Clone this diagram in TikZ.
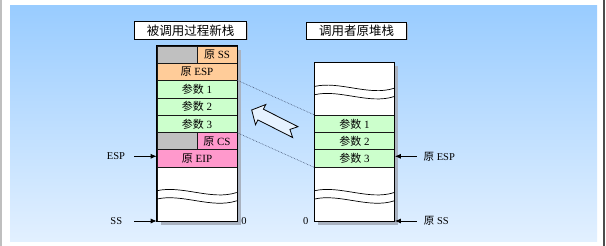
\documentclass[tikz,border=0pt]{standalone}
\usepackage{fontspec}
\setmainfont{Liberation Serif}
\newfontfamily\cjk{Noto Sans CJK SC}
\usetikzlibrary{arrows.meta}

\definecolor{panelTop}{HTML}{99CCFF}
\definecolor{panelBot}{HTML}{E2F0FF}
\definecolor{cellGray}{HTML}{C0C0C0}
\definecolor{cellOrange}{HTML}{FFCC99}
\definecolor{cellGreen}{HTML}{CCFFCC}
\definecolor{cellPink}{HTML}{FF99CC}
\definecolor{shadowC}{HTML}{A9B2C0}
\definecolor{linkC}{HTML}{3A4A6A}
\definecolor{moveFill}{HTML}{E6F2FF}

\tikzset{
  cell/.style={draw=black!90, line width=0.6pt, minimum width=80pt, minimum height=17.3pt,
    inner sep=0pt, anchor=north west, font=\fontsize{11}{13}\selectfont},
  halfcell/.style={cell, minimum width=40pt},
  titlebox/.style={draw=black, line width=0.7pt, fill=white, inner sep=0pt,
    font=\cjk\fontsize{12.5}{14}\selectfont},
  lbl/.style={inner sep=0pt, font=\fontsize{10.5}{12}\selectfont},
  ptr/.style={line width=0.8pt, -{Latex[length=6pt,width=5pt]}},
  link/.style={linkC, line width=0.6pt, densely dotted},
  wavepair/.pic={
    \draw[line width=0.7pt] (0,0) .. controls (25,-6) and (55,10) .. (80,1.7);
    \draw[line width=0.7pt] (0,8.3) .. controls (25,2.3) and (55,18.3) .. (80,10);
  }
}

\begin{document}
\begin{tikzpicture}[x=1pt,y=-1pt]
\useasboundingbox (0,0) rectangle (606,246);
% page frame and panel
\fill[white] (0,0) rectangle (606,246);
\fill[black!25] (0,0) rectangle (2,246);
\fill[black!70] (603,0) rectangle (604.5,246);
\shade[top color=panelTop, bottom color=panelBot] (10,6) rectangle (597,241);

% titles
\fill[shadowC] (135.8,23.2) rectangle (248.2,40.5);
\node[titlebox, minimum width=112.4pt, minimum height=17.3pt] (tL) at (190.5,30.35) {被调用过程新栈};
\fill[shadowC] (308.2,23.8) rectangle (408.2,40.5);
\node[titlebox, minimum width=100pt, minimum height=16.7pt] (tR) at (356.7,30.65) {调用者原堆栈};

% shadows of the two stacks
\fill[shadowC] (160.7,49.7) rectangle (240.7,225);
\fill[shadowC] (318.3,66.3) rectangle (398.3,225);

% new stack of the called procedure
\node[halfcell, fill=cellGray] (Lg1) at (156.7,45.7) {};
\node[halfcell, fill=cellOrange] (Lss) at (196.7,45.7) {{\cjk 原} SS};
\node[cell, fill=cellOrange] (Lesp) at (156.7,63) {{\cjk 原} ESP};
\node[cell, fill=cellGreen] (Lp1) at (156.7,80.3) {{\cjk 参数} 1};
\node[cell, fill=cellGreen] (Lp2) at (156.7,97.6) {{\cjk 参数} 2};
\node[cell, fill=cellGreen] (Lp3) at (156.7,114.9) {{\cjk 参数} 3};
\node[halfcell, fill=cellGray] (Lg2) at (156.7,132.2) {};
\node[halfcell, fill=cellPink] (Lcs) at (196.7,132.2) {{\cjk 原} CS};
\node[cell, fill=cellPink] (Leip) at (156.7,149.5) {{\cjk 原} EIP};
\node[cell, fill=white, minimum height=54.2pt] (Lbody) at (156.7,166.8) {};
\pic at (156.7,190.8) {wavepair};
\draw[line width=0.9pt] (Lg1.north west) rectangle (Lbody.south east);

% original stack of the caller
\node[cell, fill=white, minimum height=52.6pt] (Rtop) at (314.3,62.3) {};
\pic at (314.3,86.5) {wavepair};
\node[cell, fill=cellGreen] (Rp1) at (314.3,114.9) {{\cjk 参数} 1};
\node[cell, fill=cellGreen] (Rp2) at (314.3,132.2) {{\cjk 参数} 2};
\node[cell, fill=cellGreen] (Rp3) at (314.3,149.5) {{\cjk 参数} 3};
\node[cell, fill=white, minimum height=54.2pt] (Rbody) at (314.3,166.8) {};
\pic at (314.3,190.8) {wavepair};
\draw[line width=0.9pt] (Rtop.north west) rectangle (Rbody.south east);

% parameters copied between the stacks
\draw[link] (Lp1.north east) -- (Rp1.north west);
\draw[link] (Lp3.south east) -- (Rp3.south west);

% copy direction
\draw[line width=0.8pt, fill=moveFill, line join=miter]
  (298.0,126.7) -- (263.4,109.2) -- (265.8,104.5) -- (251.7,110.0) -- (255.5,124.7)
  -- (257.9,119.9) -- (292.6,137.5) -- (289.9,129.4) -- cycle;

% pointers
\coordinate (lx) at (134.3,0);
\coordinate (rx) at (416.7,0);
\node[lbl] (lESP) at (116,156.3) {ESP};
\node[lbl] (lSS) at (116.3,221) {SS};
\node[lbl] (z1) at (244,221) {0};
\node[lbl] (z2) at (305.8,221) {0};
\node[lbl] (rESP) at (439.3,156.3) {{\cjk 原} ESP};
\node[lbl] (rSS) at (436.3,221) {{\cjk 原} SS};
\draw[ptr] (lx |- lESP) -- (lESP -| Leip.west);
\draw[ptr] (lx |- lSS) -- (lSS -| Lbody.west);
\draw[ptr] (rx |- rESP) -- (rESP -| Rp3.east);
\draw[ptr] (rx |- rSS) -- (rSS -| Rbody.east);
\end{tikzpicture}
\end{document}
